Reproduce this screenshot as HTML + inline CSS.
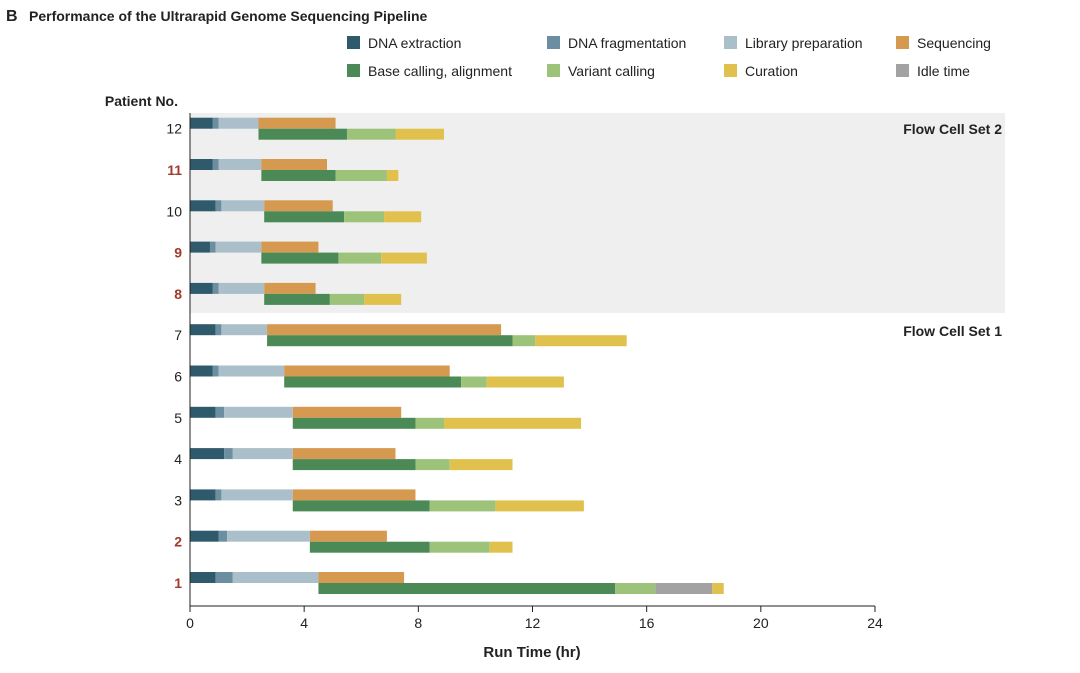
<!DOCTYPE html>
<html><head><meta charset="utf-8"><style>
body{margin:0;background:#fff;font-family:"Liberation Sans",sans-serif;}
svg text{font-family:"Liberation Sans",sans-serif;}
</style></head><body>
<svg id="chart" width="1080" height="668" xmlns="http://www.w3.org/2000/svg">
<text x="6" y="21" font-size="16" font-weight="bold" fill="#222">B</text>
<text x="29" y="21" font-size="14" font-weight="bold" fill="#222">Performance of the Ultrarapid Genome Sequencing Pipeline</text>
<rect x="190" y="113" width="815" height="200" fill="#efefef"/>
<text x="1002" y="134" font-size="14" font-weight="bold" text-anchor="end" fill="#222">Flow Cell Set 2</text>
<text x="1002" y="336" font-size="14" font-weight="bold" text-anchor="end" fill="#222">Flow Cell Set 1</text>
<text x="178" y="106" font-size="14" font-weight="bold" text-anchor="end" fill="#222">Patient No.</text>
<text x="532" y="657" font-size="15" font-weight="bold" text-anchor="middle" fill="#222">Run Time (hr)</text>
<g id="legend"></g>
<g id="bars"></g>
<g id="axis"></g>
</svg>
<script>
const patients=[1,2,3,4,5,6,7,8,9,10,11,12];
const highlighted=[1,2,8,9,11];
const stageNames=["DNA extraction","DNA fragmentation","Library preparation","Sequencing","Base calling, alignment","Variant calling","Curation","Idle time"];
// cumulative end times (hr), top row: extraction, fragmentation, library, sequencing
const extractionEnd=[0.9,1.0,0.9,1.2,0.9,0.8,0.9,0.8,0.7,0.9,0.8,0.8];
const fragmentationEnd=[1.5,1.3,1.1,1.5,1.2,1.0,1.1,1.0,0.9,1.1,1.0,1.0];
const libraryEnd=[4.5,4.2,3.6,3.6,3.6,3.3,2.7,2.6,2.5,2.6,2.5,2.4];
const sequencingEnd=[7.5,6.9,7.9,7.2,7.4,9.1,10.9,4.4,4.5,5.0,4.8,5.1];
// bottom row: base calling (starts at library end), variant calling, idle, curation
const baseCallingEnd=[14.9,8.4,8.4,7.9,7.9,9.5,11.3,4.9,5.2,5.4,5.1,5.5];
const variantCallingEnd=[16.3,10.5,10.7,9.1,8.9,10.4,12.1,6.1,6.7,6.8,6.9,7.2];
const idleEnd=[18.3,10.5,10.7,9.1,8.9,10.4,12.1,6.1,6.7,6.8,6.9,7.2];
const curationEnd=[18.7,11.3,13.8,11.3,13.7,13.1,15.3,7.4,8.3,8.1,7.3,8.9];
const xTicks=[0,4,8,12,16,20,24];
const colors=["#2e5a6c","#6b8fa0","#aabfca","#d59a50","#4b8a56","#9dc37b","#e1c14d","#a2a2a2"];
const NS="http://www.w3.org/2000/svg";
const x=v=>190+v*(685/24);
const yc=p=>577+(1-p)*41.3+6; // boundary between top and bottom bar
function el(t,a,parent){const e=document.createElementNS(NS,t);for(const k in a)e.setAttribute(k,a[k]);parent.appendChild(e);return e;}
const bars=document.getElementById('bars');
function seg(a,b,y,c,parent){if(b<=a)return null;return el('rect',{x:x(a),y:y,width:x(b)-x(a),height:11,fill:c},parent);}
patients.forEach((p,i)=>{
  const g=el('g',{},bars);
  
  
  const c=yc(p);
  const top=[0,extractionEnd[i],fragmentationEnd[i],libraryEnd[i],sequencingEnd[i]];
  for(let k=0;k<4;k++){const r=seg(top[k],top[k+1],c-11,colors[k],g);if(r){
    
    }}
  const s=[[libraryEnd[i],baseCallingEnd[i],4,'base-calling'],[baseCallingEnd[i],variantCallingEnd[i],5,'variant-calling'],[variantCallingEnd[i],idleEnd[i],7,'idle'],[idleEnd[i],curationEnd[i],6,'curation']];
  s.forEach(q=>{const r=seg(q[0],q[1],c,colors[q[2]],g);if(r){
    
    }});
  const hl=highlighted.includes(p);
  const t=el('text',{x:182,y:c+5,'font-size':14,'text-anchor':'end',fill:hl?'#a23a2b':'#222','font-weight':hl?'bold':'normal'},g);
  t.textContent=p;
  
  
});
const ax=document.getElementById('axis');
el('line',{x1:190,x2:875,y1:606,y2:606,stroke:'#222','stroke-width':1},ax);
el('line',{x1:190,x2:190,y1:113,y2:606,stroke:'#222','stroke-width':1},ax);
xTicks.forEach(v=>{
  el('line',{x1:x(v),x2:x(v),y1:606,y2:612,stroke:'#222'},ax);
  const t=el('text',{x:x(v),y:628,'font-size':14,'text-anchor':'middle',fill:'#222'},ax);
  t.textContent=v;
  
  
});
const lg=document.getElementById('legend');
const lx=[347,547,724,896];
stageNames.forEach((n,k)=>{
  const g=el('g',{},lg);
  
  
  const px=lx[k%4],py=k<4?36:64;
  el('rect',{x:px,y:py,width:13,height:13,fill:colors[k]},g);
  const t=el('text',{x:px+21,y:py+12,'font-size':14,fill:'#222'},g);
  t.textContent=n;
});
</script>
</body></html>
